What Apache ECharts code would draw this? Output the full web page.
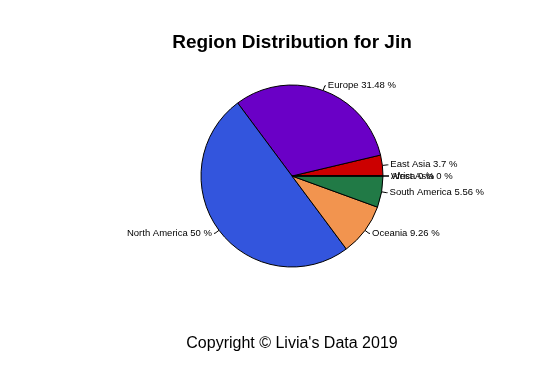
<!DOCTYPE html>
<html><head><meta charset="utf-8">
<script src="https://cdn.jsdelivr.net/npm/echarts@6/dist/echarts.min.js"></script>
<style>html,body{margin:0;padding:0;background:#fff}#c{width:545px;height:372px}</style>
</head><body><div id="c"></div>
<script>
var regions = ["Africa", "East Asia", "Europe", "North America", "Oceania", "South America", "West Asia"];
var percents = [0, 3.7, 31.48, 50, 9.26, 5.56, 0];
var colors = ["#ffffff", "#cc0000", "#6a00c6", "#3355dd", "#f2944f", "#217a46", "#ffffff"];

var chart = echarts.init(document.getElementById('c'));
chart.setOption({
  animation: false,
  backgroundColor: '#ffffff',
  title: [
    {text: 'Region Distribution for Jin', left: 287, top: 28, textAlign: 'center',
     textStyle: {fontFamily: 'Liberation Sans', fontWeight: 'bold', fontSize: 19, color: '#000'}},
    {text: "Copyright \u00a9 Livia's Data 2019", left: 287, top: 331, textAlign: 'center',
     textStyle: {fontFamily: 'Liberation Sans', fontWeight: 'normal', fontSize: 16, color: '#000'}}
  ],
  series: [{
    type: 'pie',
    center: [292, 176],
    radius: 91,
    startAngle: 0,
    clockwise: false,
    avoidLabelOverlap: false,
    minShowLabelAngle: 0,
    labelLayout: {hideOverlap: false},
    data: regions.map(function (r, i) {
      return {name: r, value: percents[i], itemStyle: {color: colors[i]}};
    }),
    itemStyle: {borderColor: '#000', borderWidth: 1},
    emphasis: {disabled: true},
    label: {
      show: true,
      position: 'outside',
      formatter: function (p) { return p.name + ' ' + p.value + ' %'; },
      fontFamily: 'Liberation Sans', fontSize: 9.5, color: '#000',
      distanceToLabelLine: 2
    },
    labelLine: {show: true, length: 5, length2: 1, lineStyle: {color: '#000', width: 1}}
  }]
});
</script></body></html>
